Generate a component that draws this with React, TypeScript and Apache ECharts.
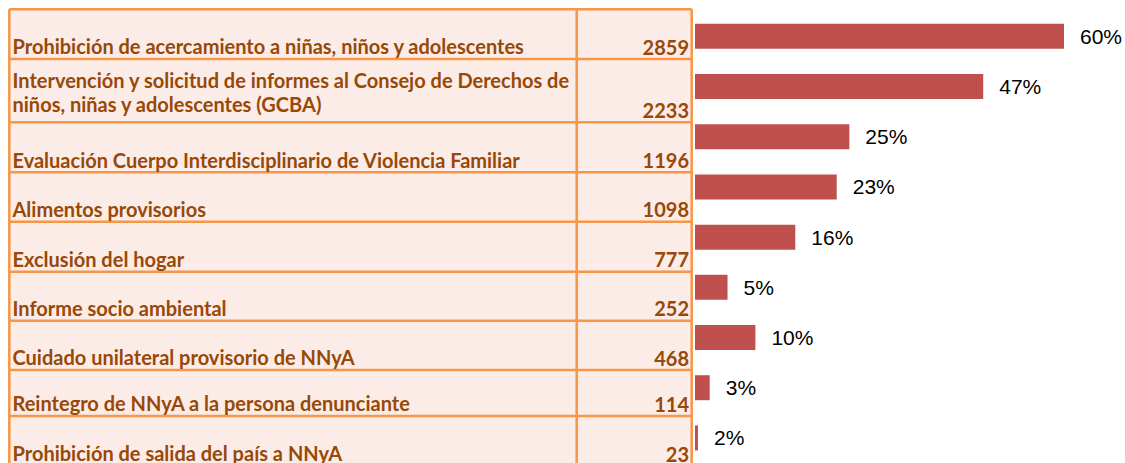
import React, { useEffect, useRef } from "react";
import * as echarts from "echarts";

// ---- data ----
const categories: string[] = [
  "Prohibición de acercamiento a niñas, niños y adolescentes",
  "Intervención y solicitud de informes al Consejo de Derechos de\nniños, niñas y adolescentes (GCBA)",
  "Evaluación Cuerpo Interdisciplinario de Violencia Familiar",
  "Alimentos provisorios",
  "Exclusión del hogar",
  "Informe socio ambiental",
  "Cuidado unilateral provisorio de NNyA",
  "Reintegro de NNyA a la persona denunciante",
  "Prohibición de salida del país a NNyA",
];
const counts: number[] = [2859, 2233, 1196, 1098, 777, 252, 468, 114, 23];
const percentLabels: string[] = ["60%", "47%", "25%", "23%", "16%", "5%", "10%", "3%", "2%"];

// ---- layout (table geometry) ----
const rowEdges = [9.3, 59, 122.3, 172.3, 221.7, 271.7, 320.7, 370, 416, 466];
const tableLeft = 9.3;
const colDivider = 576.7;
const tableRight = 691.7;
const borderColor = "#F79646";
const fillColor = "#FCECE7";
const textColor = "#984807";
const tableFont = { fontFamily: "Lato", fontWeight: "bold" as const, fontSize: 20 };

function buildTableGraphics(): any[] {
  const els: any[] = [];
  const top = rowEdges[0];
  const bottom = rowEdges[rowEdges.length - 1];
  els.push({
    type: "rect",
    shape: { x: tableLeft, y: top, width: tableRight - tableLeft, height: bottom - top },
    style: { fill: fillColor },
    silent: true,
  });
  rowEdges.forEach((y) => {
    els.push({
      type: "line",
      shape: { x1: tableLeft, y1: y, x2: tableRight, y2: y },
      style: { stroke: borderColor, lineWidth: 2.5 },
      silent: true,
    });
  });
  [tableLeft, colDivider, tableRight].forEach((x) => {
    els.push({
      type: "line",
      shape: { x1: x, y1: top, x2: x, y2: bottom },
      style: { stroke: borderColor, lineWidth: 2.5 },
      silent: true,
    });
  });
  categories.forEach((cat, i) => {
    const rowBottom = rowEdges[i + 1];
    const multi = cat.indexOf("\n") >= 0;
    els.push({
      type: "text",
      x: 12.5,
      y: multi ? rowBottom - 30.3 : rowBottom - 12.8,
      style: {
        text: cat,
        fill: textColor,
        ...tableFont,
        lineHeight: 23.5,
        align: "left",
        verticalAlign: "middle",
      },
      silent: true,
    });
    els.push({
      type: "text",
      x: 689,
      y: rowBottom - 12.3,
      style: {
        text: String(counts[i]),
        fill: textColor,
        ...tableFont,
        align: "right",
        verticalAlign: "middle",
      },
      silent: true,
    });
  });
  return els;
}

export default function App() {
  const ref = useRef<HTMLDivElement>(null);
  useEffect(() => {
    if (!ref.current) return;
    const chart = echarts.init(ref.current, null, { renderer: "svg" });
    chart.setOption({
      animation: false,
      backgroundColor: "#ffffff",
      grid: { left: 695, top: 11.27, height: 454.1, right: 42.8 },
      xAxis: { type: "value", min: 0, max: 3000, show: false },
      yAxis: { type: "category", data: categories, inverse: true, show: false },
      series: [
        {
          type: "bar",
          data: counts,
          barWidth: 25,
          itemStyle: { color: "#C0504D" },
          label: {
            show: true,
            position: "right",
            distance: 16,
            formatter: (p: any) => percentLabels[p.dataIndex],
            color: "#000000",
            fontFamily: "Liberation Sans, Arial, sans-serif",
            fontSize: 21,
          },
        },
      ],
      graphic: buildTableGraphics(),
    });
    return () => chart.dispose();
  }, []);
  return (
    <div
      ref={ref}
      style={{ position: "absolute", left: 0, top: 0, width: 1125, height: 463 }}
    />
  );
}
